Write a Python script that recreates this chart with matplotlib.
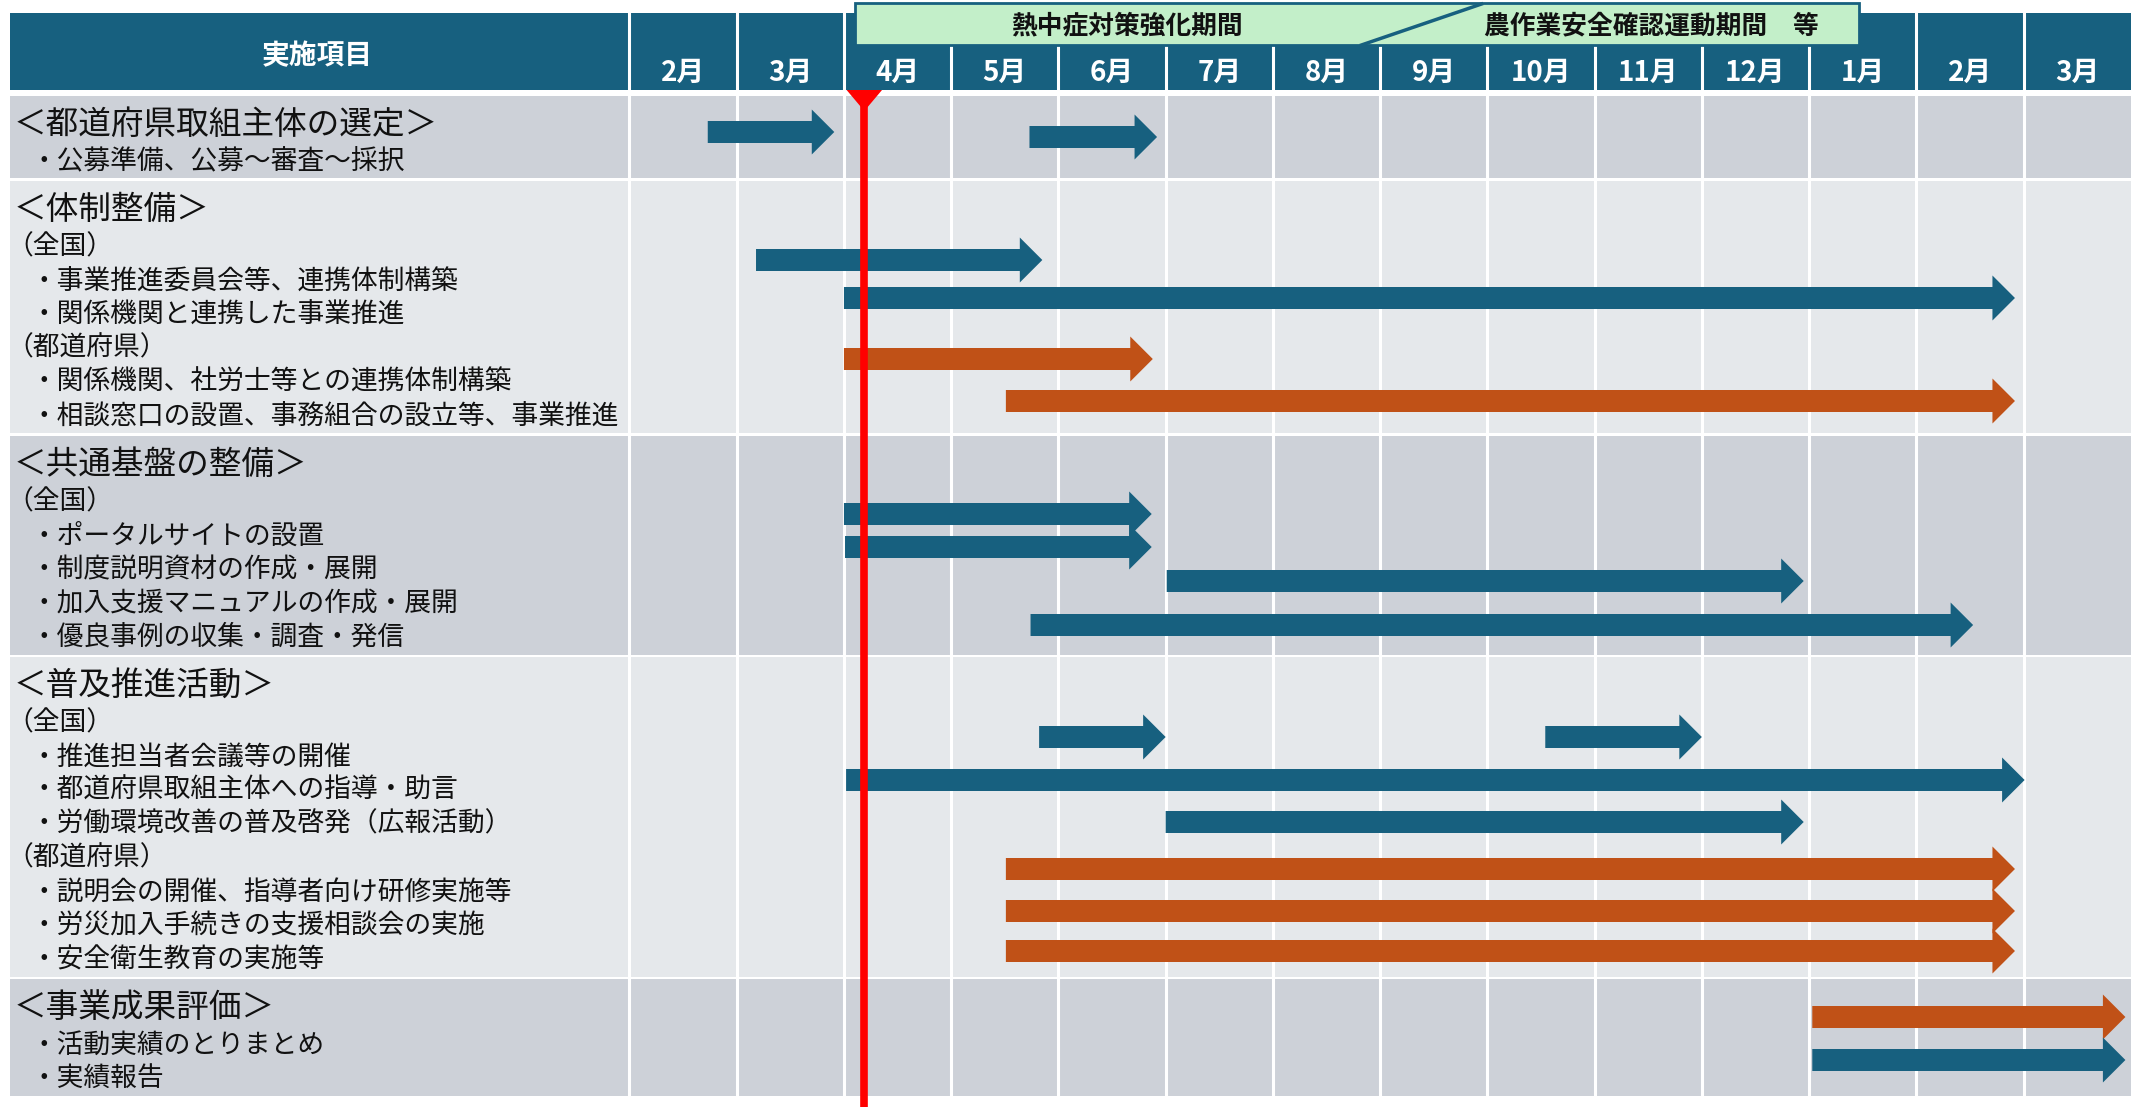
import matplotlib
matplotlib.use("Agg")
import matplotlib.pyplot as plt
from matplotlib.patches import Rectangle, Polygon

plt.rcParams['font.family'] = ['Noto Sans CJK JP', 'DejaVu Sans']

# --- data -------------------------------------------------------------
month_labels = ['2月', '3月', '4月', '5月', '6月', '7月', '8月', '9月',
                '10月', '11月', '12月', '1月', '2月', '3月']

# months are counted from the start of the first 2月 column
today = 2.19

banner_left = ['熱中症対策強化期間']
banner_right = ['農作業安全確認運動期間　等']
banner_span = [2.10, 11.47]

section_titles = ['＜都道府県取組主体の選定＞', '＜体制整備＞', '＜共通基盤の整備＞',
                  '＜普及推進活動＞', '＜事業成果評価＞']
section_items = [
    ['・公募準備、公募～審査～採択'],
    ['（全国）', '・事業推進委員会等、連携体制構築', '・関係機関と連携した事業推進',
     '（都道府県）', '・関係機関、社労士等との連携体制構築',
     '・相談窓口の設置、事務組合の設立等、事業推進'],
    ['（全国）', '・ポータルサイトの設置', '・制度説明資材の作成・展開',
     '・加入支援マニュアルの作成・展開', '・優良事例の収集・調査・発信'],
    ['（全国）', '・推進担当者会議等の開催', '・都道府県取組主体への指導・助言',
     '・労働環境改善の普及啓発（広報活動）', '（都道府県）',
     '・説明会の開催、指導者向け研修実施等', '・労災加入手続きの支援相談会の実施',
     '・安全衛生教育の実施等'],
    ['・活動実績のとりまとめ', '・実績報告'],
]

# arrows: start month, end month, lane (row position), who runs it
task_start = [0.73, 3.73,
              1.18, 2.00, 2.00, 3.51,
              2.00, 2.01, 5.01, 3.74,
              3.82, 8.54, 2.02, 5.00, 3.51, 3.51, 3.51,
              11.03, 11.03]
task_end = [1.91, 4.92,
            3.85, 12.92, 4.88, 12.92,
            4.87, 4.87, 10.95, 12.53,
            5.00, 10.00, 13.01, 10.95, 12.92, 12.92, 12.92,
            13.95, 13.95]
task_lane = [132, 137,
             260, 298, 359, 401,
             514, 547, 581, 625,
             737, 737, 780, 822, 869, 911, 951,
             1017, 1060]
task_owner = ['国', '国',
              '国', '国', '県', '県',
              '国', '国', '国', '国',
              '国', '国', '国', '国', '県', '県', '県',
              '県', '国']

# --- layout -----------------------------------------------------------
header_blue = '#17607F'
owner_color = {'国': '#17607F', '県': '#C05117'}
row_colors = ['#CDD1D8', '#E5E8EB']
row_bands = [(96, 178), (181, 433), (436, 655), (657, 977), (979, 1096)]
unit = 107.2          # pixels per month
x_left = -5.87
left_edge = -5.78

fig = plt.figure(figsize=(21.34, 11.07), dpi=100)
ax = fig.add_axes([0, 0, 1, 1])
ax.set_xlim(x_left, 14.03)
ax.set_ylim(1107, 0)
ax.axis('off')


def px(x):
    return x_left + x / unit


n = len(month_labels)

# header band
ax.add_patch(Rectangle((left_edge, 13), n - left_edge, 77, fc=header_blue, ec='none', zorder=0))
ax.text(px(317), 56, '実施項目', color='white', fontsize=20, fontweight='bold',
        ha='center', va='center', zorder=6)
for i, lab in enumerate(month_labels):
    ax.text(i + 0.5, 73, lab, color='white', fontsize=20, fontweight='bold',
            ha='center', va='center', zorder=6)

# row bands + text
for i, (top, bot) in enumerate(row_bands):
    ax.add_patch(Rectangle((left_edge, top), n - left_edge, bot - top,
                           fc=row_colors[i % 2], ec='none', zorder=0))
    ty = top + 29
    ax.text(px(14), ty, section_titles[i], fontsize=23.5, color='#111111',
            ha='left', va='center', zorder=6)
    for j, item in enumerate(section_items[i]):
        yy = ty + 37 + 33.8 * j
        xx = px(6) if item.startswith('（') else px(30)
        ax.text(xx, yy, item, fontsize=19.3, color='#111111',
                ha='left', va='center', zorder=6)

# white column separators
for k in range(n):
    ax.plot([k, k], [13, 1096], color='white', lw=2.2, zorder=1)

# arrows
for s, e, y, who in zip(task_start, task_end, task_lane, task_owner):
    ax.arrow(s, y, e - s, 0, width=22, head_width=45, head_length=0.21,
             length_includes_head=True, fc=owner_color[who], ec='none', lw=0, zorder=3)

# today marker
ax.plot([today, today], [92, 1107], color='#FF0000', lw=5.5, solid_capstyle='butt', zorder=4)
ax.add_patch(Polygon([(today - 0.165, 90), (today + 0.165, 90), (today, 111)],
                     closed=True, fc='#FF0000', ec='none', zorder=4))

# banner
b0, b1 = banner_span
ax.add_patch(Rectangle((b0, 3), b1 - b0, 42, fc='#C3EFC9', ec=header_blue, lw=2, zorder=5))
ax.plot([px(1361), px(1481)], [45, 4], color=header_blue, lw=2.5, zorder=5)
ax.text(px(1127), 26, banner_left[0], fontsize=18.5, fontweight='bold', color='#111111',
        ha='center', va='center', zorder=6)
ax.text(px(1651), 26, banner_right[0], fontsize=18.5, fontweight='bold', color='#111111',
        ha='center', va='center', zorder=6)

fig.savefig('out.png', dpi=100, facecolor='white')
